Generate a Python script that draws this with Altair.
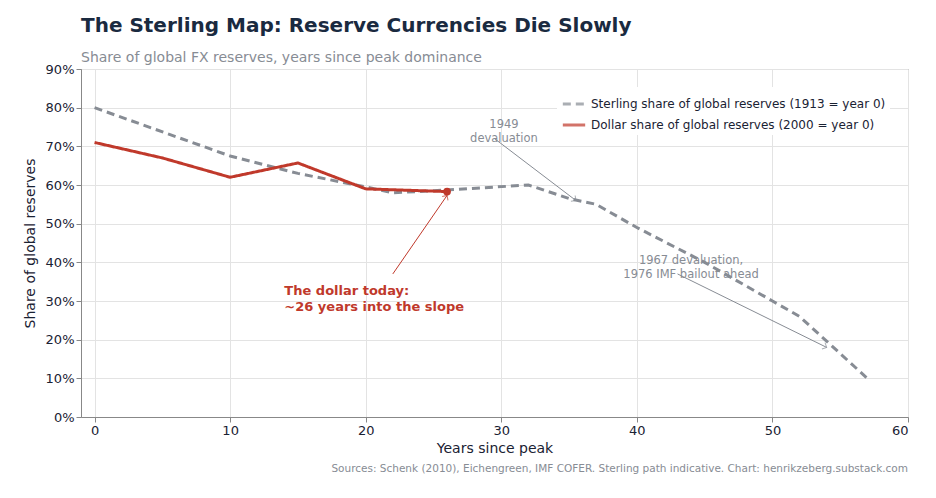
import altair as alt
import pandas as pd

st_x = [0, 10, 15, 20, 22, 25, 32, 35, 37, 40, 45, 50, 52, 57]
st_y = [80, 67.5, 63, 59.5, 58, 58.5, 60, 56.5, 55, 49, 40, 30, 26, 10]
us_x = [0, 5, 10, 15, 20, 26]
us_y = [71, 67, 62, 65.7, 59, 58.3]
x_ticks = [0, 10, 20, 30, 40, 50, 60]
y_ticks = [0, 10, 20, 30, 40, 50, 60, 70, 80, 90]
S = "Sterling share of global reserves (1913 = year 0)"
D = "Dollar share of global reserves (2000 = year 0)"

df = pd.DataFrame({"x": st_x + us_x, "y": st_y + us_y,
                   "s": [S] * len(st_x) + [D] * len(us_x)})

xs = alt.Scale(domain=[-1, 60], nice=False, zero=False)
ys = alt.Scale(domain=[0, 90], nice=False)
xa = alt.Axis(values=x_ticks, grid=True, labelOverlap=False)
ya = alt.Axis(values=y_ticks, labelOverlap=False, labelExpr="datum.value + '%'", titlePadding=8)
X = lambda f: alt.X(f, scale=xs, axis=xa, title="Years since peak")
Y = lambda f: alt.Y(f, scale=ys, axis=ya, title="Share of global reserves")

lines = alt.Chart(df).mark_line(strokeWidth=3).encode(
    x=X("x:Q"), y=Y("y:Q"),
    color=alt.Color("s:N", scale=alt.Scale(domain=[S, D], range=["#878c94", "#c0392b"]),
                    legend=alt.Legend(title=None, orient="top-right", labelFontSize=12,
                                      labelColor="#1a2233", symbolStrokeWidth=3, symbolSize=500,
                                      labelLimit=400, fillColor="white", padding=4)),
    strokeDash=alt.StrokeDash("s:N", scale=alt.Scale(domain=[S, D], range=[[8, 5], [1, 0]]),
                              legend=None),
    order="x:Q",
)

end = alt.Chart(pd.DataFrame({"x": [us_x[-1]], "y": [us_y[-1]]})).mark_circle(
    size=60, color="#c0392b", opacity=1).encode(x=X("x:Q"), y=Y("y:Q"))

arrows = pd.DataFrame({
    "x": [29.5, 43, 22], "y": [72, 37, 37],
    "x2": [35.5, 54, 26], "y2": [56, 18, 57.3],
    "ang": [127, 116, 34], "c": ["#878c94", "#878c94", "#c0392b"]})
rules = alt.Chart(arrows).mark_rule(strokeWidth=1).encode(
    x=X("x:Q"), y=Y("y:Q"), x2="x2:Q", y2="y2:Q",
    color=alt.Color("c:N", scale=None))
heads = alt.Chart(arrows).mark_point(shape="M-1,1L0,0L1,1", size=50, strokeWidth=1, filled=False).encode(
    x=X("x2:Q"), y=Y("y2:Q"), angle=alt.Angle("ang:Q", scale=None),
    color=alt.Color("c:N", scale=None))

t1 = alt.Chart(pd.DataFrame({"x": [30.2], "y": [75.5], "t": [["1949", "devaluation"]]})).mark_text(
    fontSize=11.5, color="#878c94", align="center", lineHeight=14).encode(
    x=X("x:Q"), y=Y("y:Q"), text="t")
t2 = alt.Chart(pd.DataFrame({"x": [44], "y": [40.3], "t": [["1967 devaluation,", "1976 IMF bailout ahead"]]})).mark_text(
    fontSize=11.5, color="#878c94", align="center", lineHeight=14).encode(
    x=X("x:Q"), y=Y("y:Q"), text="t")
t3 = alt.Chart(pd.DataFrame({"x": [14], "y": [32.5], "t": [["The dollar today:", "~26 years into the slope"]]})).mark_text(
    fontSize=13, fontWeight="bold", color="#c0392b", align="left", lineHeight=16).encode(
    x=X("x:Q"), y=Y("y:Q"), text="t")
src = alt.Chart(pd.DataFrame({"t": ["Sources: Schenk (2010), Eichengreen, IMF COFER. Sterling path indicative. Chart: henrikzeberg.substack.com"]})).mark_text(
    fontSize=10.5, color="#878c94", align="right").encode(
    x=alt.value(827), y=alt.value(400), text="t")

chart = alt.layer(lines, end, rules, heads, t1, t2, t3, src).properties(
    width=827, height=348, padding={"left": 15, "top": 8, "right": 5, "bottom": 5},
    title=alt.TitleParams("The Sterling Map: Reserve Currencies Die Slowly",
                          subtitle="Share of global FX reserves, years since peak dominance",
                          anchor="start", frame="group", fontSize=20, fontWeight="bold", color="#1a2a40",
                          subtitleFontSize=14, subtitleColor="#878c94", subtitlePadding=15, offset=-2),
).configure(font="DejaVu Sans").configure_axis(
    labelFontSize=13, titleFontSize=14, labelColor="#1a2233", titleColor="#1a2233",
    titleFontWeight="normal",
    gridColor="#e3e3e3", domainColor="#888", tickColor="#888",
).configure_view(stroke="#888")

chart.save("out.html", embed_options={"renderer": "svg", "actions": False})
